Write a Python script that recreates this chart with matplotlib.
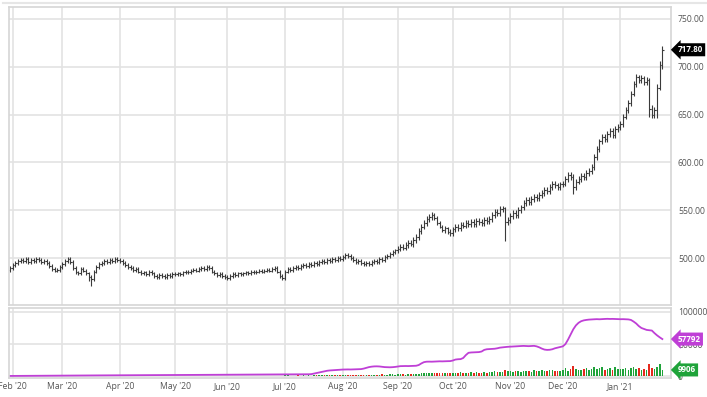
import matplotlib
matplotlib.use('Agg')
import matplotlib.pyplot as plt
from matplotlib.lines import Line2D
import numpy as np
import pandas as pd

plt.rcParams['font.family'] = ['Open Sans', 'DejaVu Sans']

# daily bars, 31 Jan 2020 .. 27 Jan 2021 (trading days)
first_day = '2020-01-31'
last_day = '2021-01-27'
holidays = ['2020-02-17', '2020-04-10', '2020-05-25', '2020-07-03', '2020-09-07',
            '2020-11-26', '2020-12-25', '2021-01-01', '2021-01-18']

close = [490,
         493, 495, 497, 498, 497, 499, 496, 498, 497, 499, 498, 496, 497, 495, 492, 489, 487, 488, 491,
         494, 497, 499, 496, 490, 485, 484, 489, 487, 484, 480, 478, 486, 491, 494, 495, 497, 496, 498, 497, 499, 498,
         497, 495, 493, 491, 490, 488, 489, 486, 484, 485, 483, 486, 484, 481, 480, 482, 481, 480, 482, 481, 483,
         483, 484, 483, 485, 486, 485, 487, 488, 487, 489, 490, 489, 491, 490, 486, 484, 482, 483, 481, 480,
         479, 481, 483, 482, 484, 483, 484, 485, 484, 486, 485, 486, 487, 486, 487, 488, 487, 489, 490, 486, 481, 479,
         486, 489, 488, 490, 491, 490, 492, 493, 492, 494, 493, 495, 494, 496, 497, 496, 498, 497, 499, 498, 500, 499,
         501, 503, 502, 500, 498, 496, 497, 495, 494, 495, 494, 496, 497, 496, 499, 498, 501, 502, 504, 506, 508,
         510, 512, 511, 514, 516, 515, 519, 522, 528, 533, 537, 541, 543, 545, 542, 537, 533, 529, 531, 527, 526,
         530, 533, 531, 535, 534, 537, 536, 538, 536, 539, 538, 537, 540, 539, 541, 545, 548, 547, 551, 552, 538, 540,
         544, 547, 545, 550, 553, 558, 561, 559, 562, 564, 563, 566, 568, 571, 570, 574, 578, 576, 574, 577,
         578, 583, 587, 585, 574, 580, 583, 586, 585, 589, 591, 595, 606, 614, 622, 627, 624, 630, 633, 629, 635, 637,
         640, 648, 655, 662, 672, 682, 689, 686, 688, 684, 686, 656, 650, 655, 678, 702, 717.80]

high = [492,
        495, 497, 499, 500, 500, 501, 501, 500, 500, 501, 501, 500, 499, 499, 497, 494, 491, 490, 493,
        496, 499, 501, 501, 498, 492, 487, 491, 491, 489, 486, 482, 488, 493, 496, 497, 499, 499, 500, 500, 501, 501,
        500, 499, 497, 495, 493, 492, 491, 491, 488, 487, 487, 488, 488, 486, 483, 484, 484, 483, 484, 484, 485,
        485, 486, 486, 487, 488, 488, 489, 490, 490, 491, 492, 492, 493, 493, 492, 488, 486, 485, 485, 483,
        482, 483, 485, 485, 486, 486, 486, 487, 487, 488, 488, 488, 489, 489, 489, 490, 490, 491, 492, 492, 488, 483,
        488, 491, 491, 492, 493, 493, 494, 495, 495, 496, 496, 497, 497, 498, 499, 499, 500, 500, 501, 501, 502, 502,
        503, 505, 505, 504, 502, 500, 499, 499, 497, 497, 497, 498, 499, 499, 501, 501, 503, 504, 506, 508, 510,
        513, 515, 515, 517, 519, 519, 522, 525, 531, 536, 540, 544, 546, 548, 547, 544, 539, 535, 534, 533, 530,
        533, 536, 536, 538, 538, 540, 540, 541, 541, 542, 542, 541, 543, 543, 544, 548, 551, 551, 554, 555, 553, 543,
        547, 550, 550, 553, 556, 561, 564, 564, 565, 567, 567, 569, 571, 574, 574, 577, 581, 581, 579, 580,
        581, 586, 590, 590, 588, 583, 586, 589, 589, 592, 594, 598, 609, 617, 625, 630, 630, 633, 636, 636, 638, 640,
        643, 651, 658, 665, 675, 685, 692, 691, 691, 690, 689, 688, 660, 658, 682, 706, 722]

low = [486,
       488, 491, 493, 495, 495, 495, 494, 494, 495, 495, 496, 494, 494, 493, 490, 487, 485, 485, 486,
       489, 492, 495, 494, 488, 483, 482, 482, 485, 482, 476, 471, 476, 484, 489, 492, 493, 494, 494, 495, 495, 496,
       495, 493, 491, 489, 488, 486, 486, 484, 482, 482, 481, 481, 482, 479, 478, 478, 479, 478, 478, 479, 479,
       481, 481, 481, 481, 483, 483, 483, 485, 485, 485, 487, 487, 487, 488, 484, 482, 480, 480, 479, 478,
       477, 477, 479, 480, 480, 481, 481, 482, 482, 482, 483, 483, 484, 484, 484, 485, 485, 485, 487, 484, 479, 477,
       477, 484, 486, 486, 488, 488, 488, 490, 490, 490, 491, 491, 492, 492, 494, 494, 494, 495, 495, 496, 496, 497,
       497, 499, 500, 498, 496, 494, 494, 493, 492, 492, 492, 492, 494, 494, 494, 496, 496, 499, 500, 502, 504,
       505, 507, 508, 508, 511, 513, 512, 516, 519, 525, 530, 534, 538, 540, 540, 535, 531, 527, 526, 525, 523,
       523, 527, 528, 528, 531, 531, 533, 533, 533, 533, 535, 534, 534, 536, 536, 538, 542, 544, 544, 548, 518, 535,
       537, 541, 542, 542, 547, 550, 555, 556, 556, 559, 560, 560, 563, 565, 567, 567, 571, 573, 571, 571,
       574, 575, 580, 582, 567, 571, 577, 580, 582, 582, 586, 588, 592, 603, 611, 619, 621, 621, 627, 626, 626, 632,
       634, 637, 645, 652, 659, 669, 679, 683, 683, 681, 681, 648, 646, 646, 646, 676, 698]

first_open = 488

volume = [300, 250, 400, 350, 200, 300, 450, 250, 300, 350, 200, 400, 300, 250, 500, 600, 450, 300, 350, 400,
          500, 400, 600, 450, 700, 800, 600, 500, 650, 900, 1000, 800, 600, 500, 450, 400, 500, 350, 400, 300, 450, 350,
          300, 350, 400, 300, 250, 350, 400, 300, 450, 350, 300, 400, 350, 300, 450, 400, 350, 300, 400, 350, 300,
          350, 300, 400, 350, 300, 450, 400, 350, 300, 400, 450, 350, 400, 300, 500, 450, 400, 350, 300, 400,
          400, 450, 350, 500, 400, 450, 500, 400, 550, 450, 500, 400, 600, 500, 450, 550, 500, 600, 550, 700, 800, 900,
          1500, 2500, 1200, 900, 1100, 1400, 1000, 1300, 1200, 1500, 1100, 1400, 1600, 1300, 1800, 1500, 1700, 1400, 2000, 1600, 1900, 2200,
          2500, 2000, 1800, 2200, 2600, 2400, 2000, 2300, 2100, 2500, 2200, 2800, 2400, 2600, 2300, 3000, 2700, 2500, 2900, 3200, 2800,
          3500, 3000, 3300, 2800, 3600, 3200, 3900, 3400, 4200, 4600, 5200, 4800, 5500, 5000, 4700, 5300, 5800, 5100, 4600, 5400, 5000,
          5500, 4800, 5200, 6000, 5400, 5800, 5100, 6300, 5600, 6000, 5300, 5700, 6500, 5900, 6200, 7000, 8500, 6400, 6800, 7200, 9500, 7500,
          8000, 6500, 7500, 8800, 7200, 9000, 7600, 8200, 7000, 9500, 8400, 7800, 9200, 8000, 8600, 9400, 10500, 8800, 7500, 9000,
          10000, 12500, 9000, 11000, 15500, 12000, 9500, 10500, 11500, 13000, 10000, 12000, 14000, 11000, 12500, 15000, 9500, 12000, 13500, 10500, 14500, 11000,
          12000, 11500, 13500, 10000, 12500, 14000, 11500, 13000, 9500, 12000, 10500, 18500, 13000, 11000, 14500, 19000, 9906]

open_interest = [600, 620, 640, 660, 690, 700, 720, 750, 770, 790, 800, 830, 850, 870, 900, 930, 950, 960, 980, 1000,
                 1020, 1060, 1080, 1100, 1150, 1170, 1200, 1220, 1250, 1300, 1320, 1350, 1400, 1420, 1450, 1480, 1500, 1530, 1550, 1570, 1600, 1620,
                 1640, 1650, 1680, 1700, 1720, 1730, 1760, 1780, 1800, 1810, 1840, 1860, 1870, 1900, 1920, 1930, 1950, 1980, 2000, 2010, 2040,
                 2050, 2080, 2100, 2110, 2140, 2160, 2170, 2200, 2220, 2230, 2260, 2280, 2300, 2310, 2340, 2360, 2370, 2400, 2420, 2440,
                 2450, 2480, 2500, 2510, 2540, 2550, 2570, 2600, 2610, 2640, 2650, 2670, 2700, 2710, 2720, 2740, 2750, 2760, 2770, 2780, 2790, 2800,
                 2800, 2850, 2900, 2900, 2950, 3000, 3000, 3050, 3100, 3200, 3400, 4200, 5100, 6000, 7000, 7900, 8600, 9100, 9400, 9700, 9900, 10200,
                 10500, 10600, 10700, 10600, 10800, 10900, 11000, 11200, 12000, 13200, 14300, 15000, 15400, 15500, 15300, 14800, 14300, 14100, 14000, 14200, 14600,
                 15200, 15800, 15900, 16000, 15900, 16100, 16200, 16400, 17500, 20000, 22000, 22700, 22800, 22700, 22900, 23100, 23300, 23200, 23400, 23500, 23600,
                 24500, 26000, 26500, 26700, 28500, 33000, 36500, 37000, 37200, 37400, 37600, 38500, 41000, 42000, 42300, 42500, 42800, 43500, 44500, 45000, 45400, 45800,
                 46000, 46300, 46500, 46800, 47000, 47200, 47000, 46800, 47000, 47300, 46500, 45000, 43000, 41500, 41000, 41200, 42000, 43500, 44500, 45500,
                 46500, 50000, 57000, 65000, 73000, 79000, 83000, 85500, 86800, 87500, 88000, 88300, 88500, 88700, 88500, 88800, 89000, 89200, 89000, 89100, 88900, 88800,
                 88600, 88700, 88500, 88300, 87500, 85000, 82000, 78000, 75000, 73500, 72000, 71500, 71000, 67000, 63500, 60500, 57792]

price_ticks = [500, 550, 600, 650, 700, 750]
vol_ticks = [0, 50000, 100000]

n = len(close)
idx = np.arange(n)
dates = pd.bdate_range(first_day, last_day, freq='C', holidays=holidays)[:n]
opens = [first_open] + close[:-1]
up = np.array(close) >= np.array(opens)

# first trading day of every month -> grid + labels
month_pos = [i for i in range(1, n) if dates[i].month != dates[i - 1].month]
month_lab = [dates[i].strftime("%b '%y") for i in month_pos]

grid_c = '#e3e3e3'
frame_c = '#d6d6d6'
txt_c = '#555555'
bar_c = '#3a3a3a'
green = '#1fa33a'
red = '#e52a1e'
magenta = '#bf3fd6'

fig = plt.figure(figsize=(7.07, 3.97), dpi=100)
ax = fig.add_axes([9/707, 1-305/397, 662/707, 298/397])
axv = fig.add_axes([9/707, 1-378/397, 662/707, 70/397])

for a in (ax, axv):
    a.set_xlim(-0.4, 252.3)
    for s in a.spines.values():
        s.set_color(frame_c)
        s.set_linewidth(1.2)
    a.set_xticks(month_pos)
    a.grid(True, color=grid_c, lw=1.2)
    a.set_axisbelow(True)
    a.yaxis.tick_right()
    a.tick_params(length=0, labelsize=6.2, labelcolor=txt_c, pad=5)

# price panel (OHLC bars)
ax.vlines(idx, low, high, color=bar_c, lw=0.8)
ax.hlines(opens, idx - 0.5, idx, color=bar_c, lw=0.8)
ax.hlines(close, idx, idx + 0.5, color=bar_c, lw=0.8)
ax.set_ylim(451, 762.5)
ax.set_yticks(price_ticks)
ax.set_yticklabels(['%.2f' % v for v in price_ticks])
ax.set_xticklabels([])

# volume + open interest panel
axv.bar(idx, volume, width=0.6, color=np.where(up, green, red), lw=0)
axv.plot(idx, open_interest, color=magenta, lw=1.3)
axv.set_ylim(-2600, 106000)
axv.set_yticks(vol_ticks)
axv.set_yticklabels([str(v) for v in vol_ticks])
axv.set_xticklabels(month_lab)
axv.tick_params(axis='x', pad=3)


def tag(a, y, text, fc):
    a.annotate(text, xy=(1.0, y), xycoords=a.get_yaxis_transform(),
               xytext=(5, 0), textcoords='offset points', ha='left', va='center',
               color='white', fontsize=5.8, fontweight='bold',
               bbox=dict(boxstyle='larrow,pad=0.25', fc=fc, ec='none'))


tag(ax, close[-1], '%.2f' % close[-1], 'black')
tag(axv, open_interest[-1], str(open_interest[-1]), magenta)
tag(axv, volume[-1], str(volume[-1]), green)

fig.add_artist(Line2D([3/707, 1], [1-3/397, 1-3/397], color='#e6e6e6', lw=1.5))

fig.savefig('out.png', dpi=100)
